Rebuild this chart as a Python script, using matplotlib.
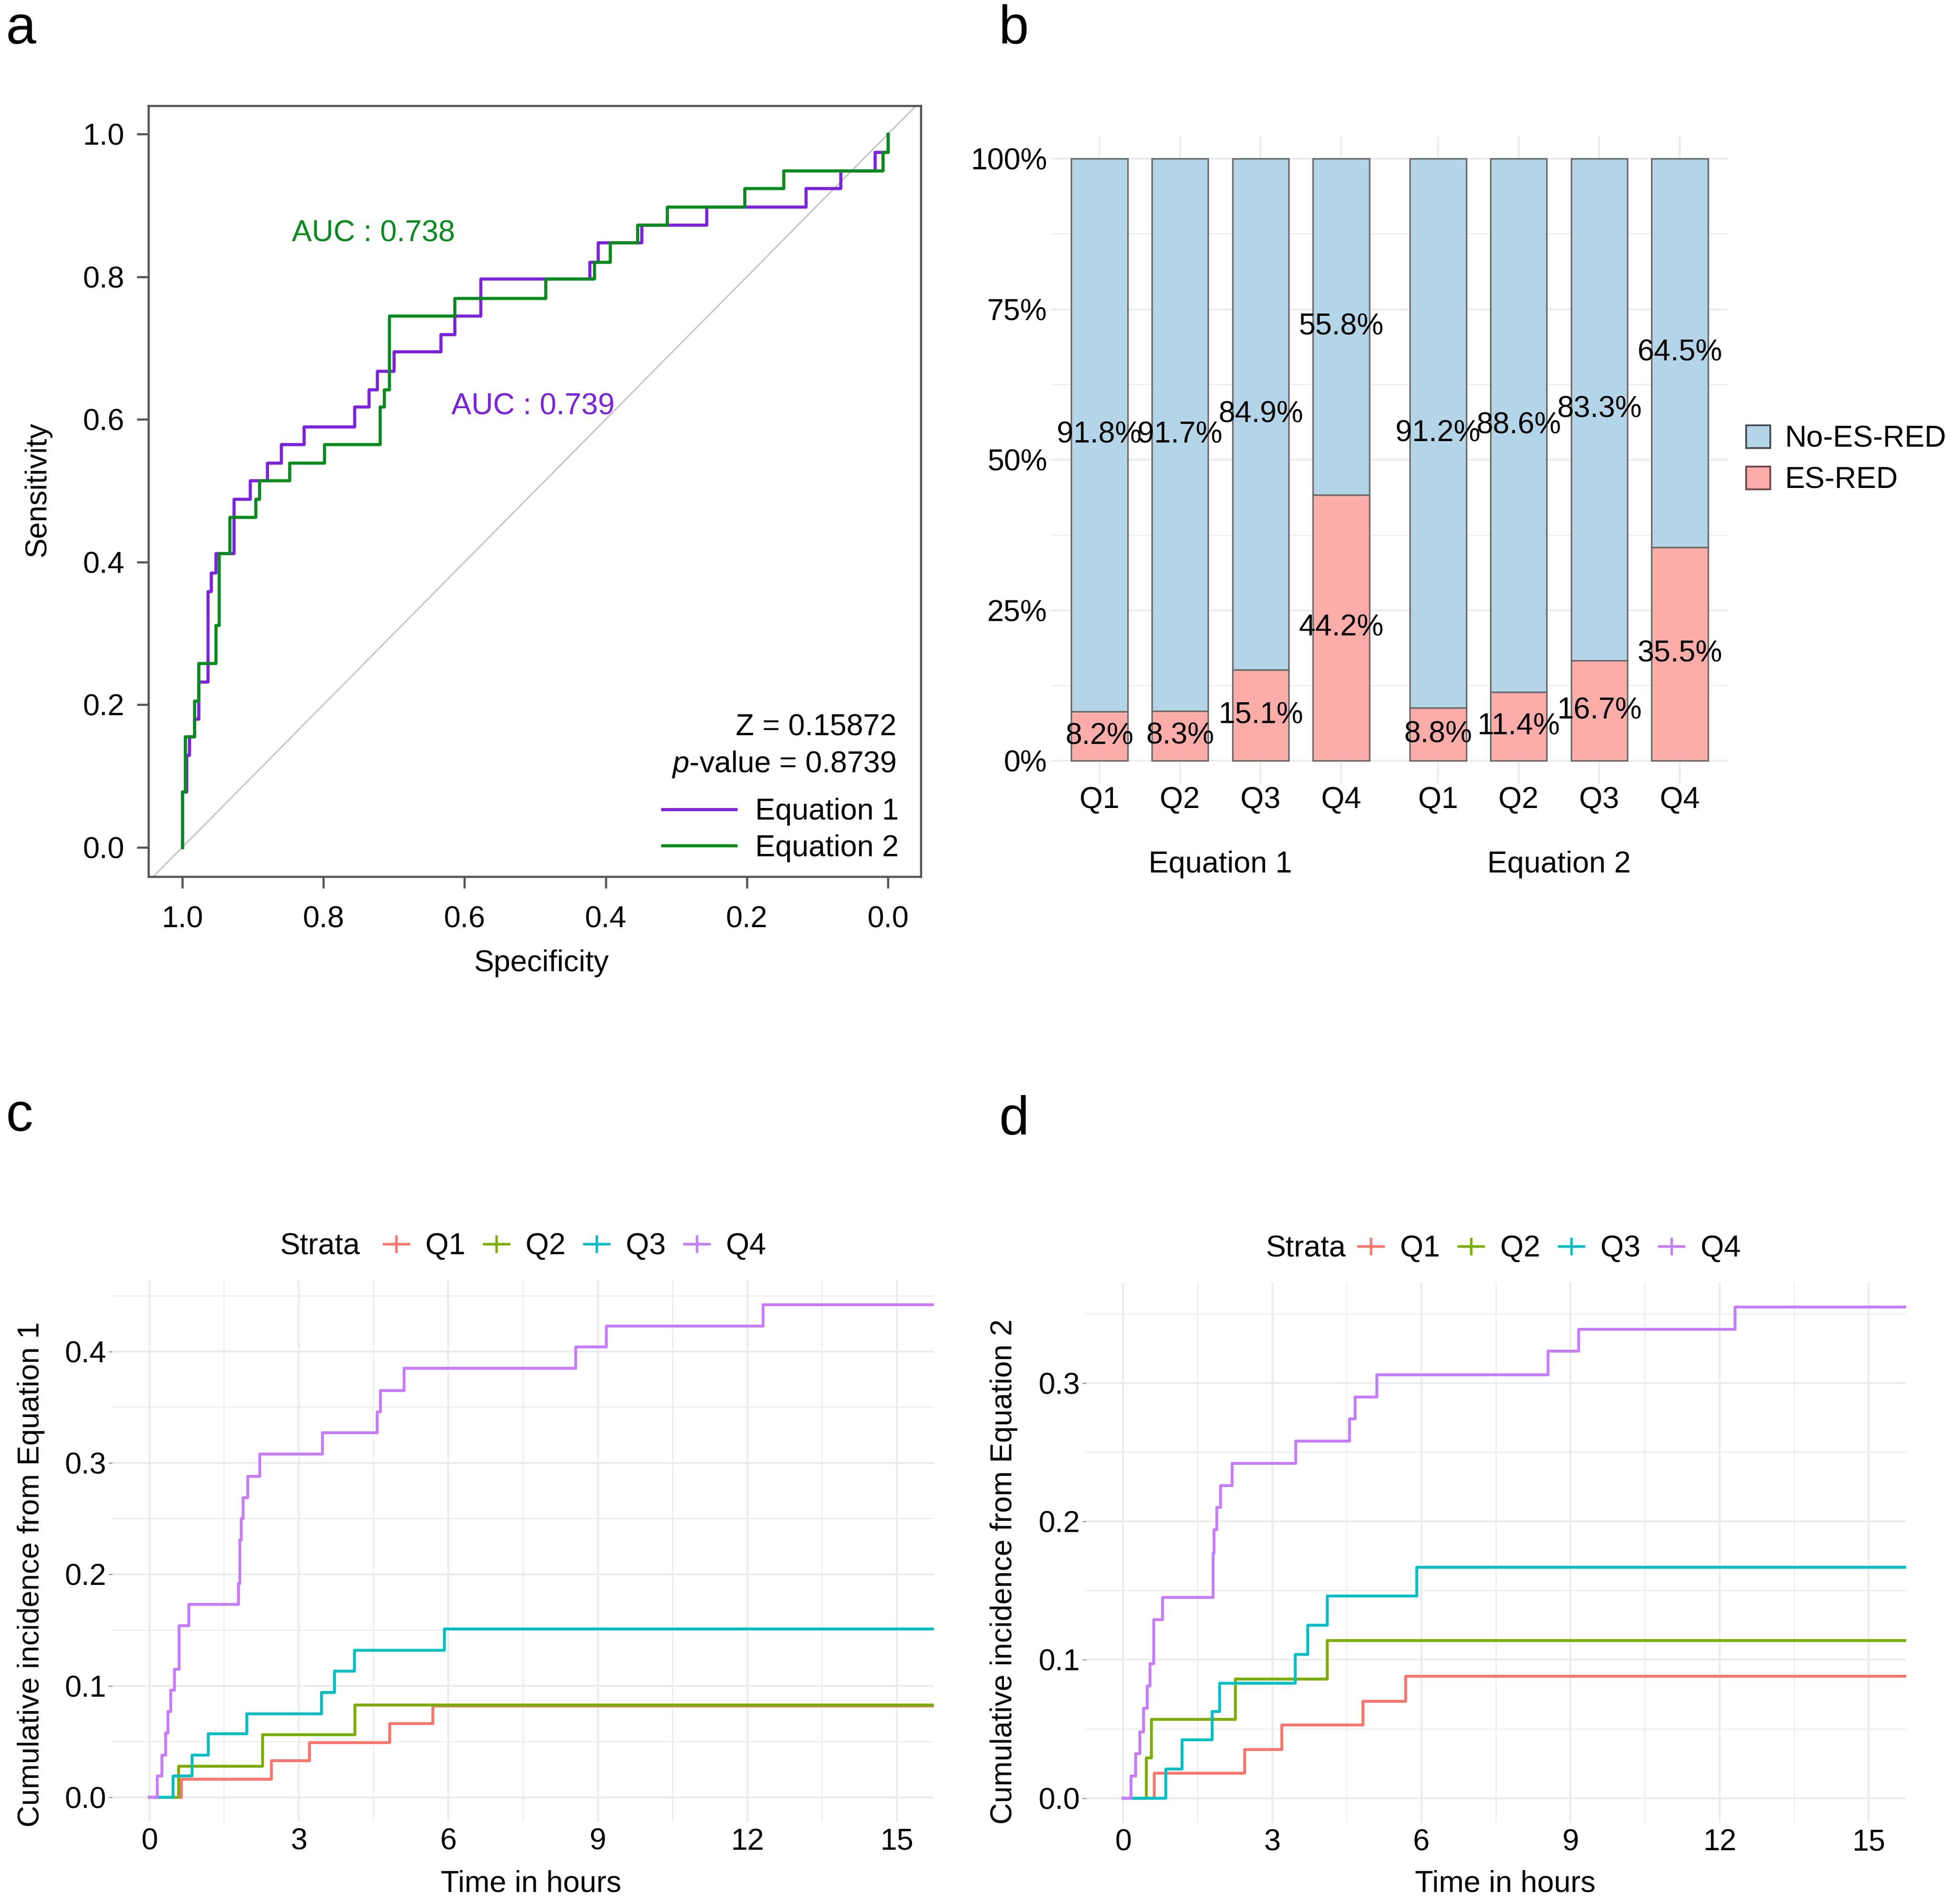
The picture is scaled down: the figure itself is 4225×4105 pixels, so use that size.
import matplotlib
matplotlib.use("Agg")
import matplotlib.pyplot as plt
from matplotlib.lines import Line2D
from matplotlib.patches import Patch

plt.rcParams['font.family'] = ['Liberation Sans', 'DejaVu Sans']
plt.rcParams['mathtext.fontset'] = 'custom'
plt.rcParams['mathtext.it'] = 'Liberation Sans:italic'
plt.rcParams['mathtext.rm'] = 'Liberation Sans'

# ---------------- data ----------------
# panel a: ROC staircase corners (specificity, sensitivity)
roc1_spec = [1.000, 1.000, 0.994, 0.990, 0.983, 0.977, 0.964, 0.959, 0.953, 0.927,
             0.904, 0.880, 0.860, 0.828, 0.756, 0.736, 0.724, 0.700, 0.634, 0.614,
             0.577, 0.423, 0.411, 0.349, 0.257, 0.116, 0.067, 0.018, 0.000]
roc1_sens = [0.000, 0.078, 0.129, 0.155, 0.180, 0.232, 0.359, 0.385, 0.412, 0.488,
             0.514, 0.539, 0.565, 0.590, 0.618, 0.642, 0.668, 0.695, 0.719, 0.745,
             0.797, 0.821, 0.848, 0.873, 0.898, 0.924, 0.949, 0.975, 1.000]
roc2_spec = [1.000, 1.000, 0.996, 0.983, 0.977, 0.953, 0.948, 0.933, 0.896, 0.891,
             0.848, 0.799, 0.720, 0.714, 0.707, 0.614, 0.485, 0.416, 0.394, 0.355,
             0.313, 0.203, 0.148, 0.007, 0.000]
roc2_sens = [0.000, 0.078, 0.155, 0.205, 0.258, 0.311, 0.412, 0.463, 0.488, 0.514,
             0.539, 0.565, 0.618, 0.642, 0.745, 0.770, 0.797, 0.821, 0.848, 0.873,
             0.898, 0.924, 0.949, 0.975, 1.000]
auc_eq1 = 0.739
auc_eq2 = 0.738
z_value = 0.15872
p_value = 0.8739

# panel b: stacked percentages per quartile
quartiles = ['Q1', 'Q2', 'Q3', 'Q4']
equations = ['Equation 1', 'Equation 2']
es_red = [[8.2, 8.3, 15.1, 44.2], [8.8, 11.4, 16.7, 35.5]]
no_es_red = [[91.8, 91.7, 84.9, 55.8], [91.2, 88.6, 83.3, 64.5]]

# panels c, d: cumulative incidence step times (hours) and levels per stratum
eq1_times = [[0.64, 2.45, 3.21, 4.82, 5.69],
             [0.58, 2.27, 4.12],
             [0.47, 0.855, 1.18, 1.95, 3.45, 3.71, 4.11, 5.92],
             [0.16, 0.25, 0.32, 0.37, 0.43, 0.50, 0.59, 0.79, 1.79, 1.81, 1.84,
              1.88, 1.97, 2.21, 3.47, 4.57, 4.64, 5.11, 8.56, 9.17, 12.32]]
eq1_cuminc = [[0.016, 0.033, 0.049, 0.066, 0.082],
              [0.028, 0.056, 0.083],
              [0.019, 0.038, 0.057, 0.075, 0.094, 0.113, 0.132, 0.151],
              [0.019, 0.038, 0.058, 0.077, 0.096, 0.115, 0.154, 0.173, 0.192, 0.231,
               0.250, 0.269, 0.288, 0.308, 0.327, 0.346, 0.365, 0.385, 0.404, 0.423, 0.442]]
eq2_times = [[0.62, 2.44, 3.19, 4.82, 5.68],
             [0.46, 0.57, 2.26, 4.10],
             [0.86, 1.18, 1.79, 1.94, 3.46, 3.71, 4.10, 5.91],
             [0.16, 0.25, 0.33, 0.41, 0.48, 0.54, 0.61, 0.79, 1.81, 1.83, 1.88,
              1.96, 2.19, 3.47, 4.55, 4.66, 5.10, 8.55, 9.16, 12.31]]
eq2_cuminc = [[0.018, 0.035, 0.053, 0.070, 0.088],
              [0.029, 0.057, 0.086, 0.114],
              [0.021, 0.042, 0.0625, 0.083, 0.104, 0.125, 0.146, 0.167],
              [0.016, 0.032, 0.048, 0.065, 0.081, 0.097, 0.129, 0.145, 0.177, 0.194,
               0.210, 0.226, 0.242, 0.258, 0.274, 0.290, 0.306, 0.323, 0.339, 0.355]]

# ---------------- style ----------------
PURPLE = '#7B22DC'
GREEN = '#0A8A1E'
BLUE_FILL = '#B4D5E8'
RED_FILL = '#FDADA9'
STRATA_COLORS = ['#F8766D', '#7CAE00', '#00BFC4', '#C77CFF']
GRID = '#EBEBEB'
FS = 15.5

W, H = 1568.0, 1524.0  # layout grid


def fx(x):
    return x / W


def fy(y):
    return 1 - y / H


fig = plt.figure(figsize=(4225 / 300, 4105 / 300), dpi=300)


def add_axes(left, top, right, bottom):
    return fig.add_axes([fx(left), fy(bottom), (right - left) / W, (bottom - top) / H])


# panel letters
for letter, x, y in [('a', 5, 35), ('b', 799, 35), ('c', 5, 905), ('d', 799, 908)]:
    fig.text(fx(x), fy(y), letter, fontsize=28, ha='left', va='baseline')

# ---------------- panel a: ROC ----------------
ax = add_axes(118.8, 84.6, 736.8, 701.8)
ax.axline((1, 0), (0, 1), color='#C8C8C8', lw=0.8, zorder=1)
ax.step(roc1_spec, roc1_sens, where='post', color=PURPLE, lw=1.6, zorder=3)
ax.step(roc2_spec, roc2_sens, where='post', color=GREEN, lw=1.6, zorder=4)
ax.set_xlim(1.048, -0.047)
ax.set_ylim(-0.0415, 1.04)
ticks = [1.0, 0.8, 0.6, 0.4, 0.2, 0.0]
ax.set_xticks(ticks, [f'{t:.1f}' for t in ticks])
ax.set_yticks(ticks, [f'{t:.1f}' for t in ticks])
for s in ax.spines.values():
    s.set_color('#555555')
    s.set_linewidth(1.1)
ax.tick_params(direction='out', length=6, width=1.1, color='#555555', labelsize=FS)
ax.tick_params(axis='x', pad=9)
ax.tick_params(axis='y', pad=6.5)
ax.text(0.729, 0.861, f'AUC : {auc_eq2:.3f}', color=GREEN, fontsize=FS, ha='center', va='center')
ax.text(0.503, 0.618, f'AUC : {auc_eq1:.3f}', color=PURPLE, fontsize=FS, ha='center', va='center')
ax.text(-0.012, 0.168, f'Z = {z_value}', fontsize=FS, ha='right', va='center')
ax.text(-0.012, 0.116, f'$p$-value = {p_value}', fontsize=FS, ha='right', va='center')
ax.legend(handles=[Line2D([], [], color=PURPLE, lw=1.6), Line2D([], [], color=GREEN, lw=1.6)],
          labels=['Equation 1', 'Equation 2'], loc='lower right',
          bbox_to_anchor=(fx(719), fy(690)), bbox_transform=fig.transFigure,
          frameon=False, fontsize=FS, borderpad=0, borderaxespad=0,
          handlelength=2.45, handletextpad=0.65, labelspacing=0.28)
fig.text(fx(30), fy(392), 'Sensitivity', rotation=90, fontsize=FS, ha='center', va='center')
fig.text(fx(433), fy(771), 'Specificity', fontsize=FS, ha='center', va='center')

# ---------------- panel b: stacked bars ----------------
ax = add_axes(840.8, 109, 1382.6, 627)
positions = []
for g in range(len(equations)):
    for q in range(len(quartiles)):
        positions.append(1 + q + g * 4.2)
es_flat = [v / 100 for row in es_red for v in row]
no_flat = [v / 100 for row in no_es_red for v in row]
ax.bar(positions, es_flat, width=0.7, color=RED_FILL, edgecolor='#6a6a6a', lw=0.8, zorder=3)
ax.bar(positions, no_flat, bottom=es_flat, width=0.7, color=BLUE_FILL,
       edgecolor='#6a6a6a', lw=0.8, zorder=3)
for x, e, n in zip(positions, es_flat, no_flat):
    ax.text(x, e / 2, f'{e * 100:.1f}%', ha='center', va='center', fontsize=FS, zorder=5)
    ax.text(x, e + n / 2, f'{n * 100:.1f}%', ha='center', va='center', fontsize=FS, zorder=5)
ax.set_xlim(0.4, 8.8)
ax.set_ylim(-0.0373, 1.0373)
ax.set_xticks(positions, quartiles * len(equations))
ax.set_yticks([0, 0.25, 0.5, 0.75, 1.0], ['0%', '25%', '50%', '75%', '100%'])
ax.set_yticks([0.125, 0.375, 0.625, 0.875], minor=True)
ax.set_axisbelow(True)
ax.grid(which='major', color=GRID, lw=0.9)
ax.grid(which='minor', axis='y', color=GRID, lw=0.5)
for s in ax.spines.values():
    s.set_visible(False)
ax.tick_params(which='both', length=0, labelsize=FS)
ax.tick_params(axis='x', pad=1.5)
ax.tick_params(axis='y', pad=2)
for g, name in enumerate(equations):
    center = sum(positions[g * 4:(g + 1) * 4]) / 4
    ax.text(center, -0.1255, name, transform=ax.get_xaxis_transform(),
            ha='center', va='center', fontsize=FS)
ax.legend(handles=[Patch(facecolor=BLUE_FILL, edgecolor='#3f4a52', lw=0.9),
                   Patch(facecolor=RED_FILL, edgecolor='#6b4747', lw=0.9)],
          labels=['No-ES-RED', 'ES-RED'], loc='center left',
          bbox_to_anchor=(fx(1397), fy(368)), bbox_transform=fig.transFigure,
          frameon=False, fontsize=FS, borderpad=0, borderaxespad=0,
          handlelength=0.8, handleheight=0.8, handletextpad=0.5, labelspacing=0.45)

# ---------------- panels c, d: cumulative incidence ----------------


def incidence_panel(ax, times, cuminc, ymax, ytop):
    for t, c, col in zip(times, cuminc, STRATA_COLORS):
        ax.step([0] + t + [16.5], [0] + c + [c[-1]], where='post', color=col, lw=1.5)
    ax.set_xlim(-0.75, 15.75)
    ax.set_ylim(-0.05 * ymax, ymax * 1.05)
    ax.set_xticks([0, 3, 6, 9, 12, 15])
    ax.set_xticks([1.5, 4.5, 7.5, 10.5, 13.5], minor=True)
    yt = [i / 10 for i in range(int(ytop * 10) + 1)]
    ax.set_yticks(yt, [f'{v:.1f}' for v in yt])
    ax.set_yticks([v + 0.05 for v in yt], minor=True)
    ax.grid(which='major', color=GRID, lw=0.9)
    ax.grid(which='minor', color=GRID, lw=0.5)
    ax.set_axisbelow(True)
    for s in ax.spines.values():
        s.set_visible(False)
    ax.tick_params(which='both', length=0, labelsize=FS)
    ax.tick_params(axis='x', pad=3)
    ax.tick_params(axis='y', which='major', length=2, width=0.6, color='#999999', pad=1)


def strata_legend(ax, strata_x, handle_x, y):
    fig.text(fx(strata_x), fy(y), 'Strata', fontsize=FS, ha='left', va='center')
    handles = [Line2D([], [], color=c, lw=1.3, marker='+', markersize=9, mew=1.3)
               for c in STRATA_COLORS]
    ax.legend(handles=handles, labels=quartiles, ncol=4, loc='center left',
              bbox_to_anchor=(fx(handle_x), fy(y)), bbox_transform=fig.transFigure,
              frameon=False, fontsize=FS, borderpad=0, borderaxespad=0,
              handlelength=0.84, handletextpad=0.55, columnspacing=0.62)


ax_c = add_axes(89.7, 1024.6, 747.2, 1458.3)
incidence_panel(ax_c, eq1_times, eq1_cuminc, max(eq1_cuminc[3]), 0.4)
strata_legend(ax_c, 224, 307, 997.6)
fig.text(fx(25), fy(1260), 'Cumulative incidence from Equation 1', rotation=90,
         fontsize=FS, ha='center', va='center')
fig.text(fx(425), fy(1508), 'Time in hours', fontsize=FS, ha='center', va='center')

ax_d = add_axes(868.8, 1026.5, 1524.8, 1458.9)
incidence_panel(ax_d, eq2_times, eq2_cuminc, max(eq2_cuminc[3]), 0.3)
strata_legend(ax_d, 1012.5, 1086.6, 999.5)
fig.text(fx(803), fy(1258), 'Cumulative incidence from Equation 2', rotation=90,
         fontsize=FS, ha='center', va='center')
fig.text(fx(1204), fy(1508), 'Time in hours', fontsize=FS, ha='center', va='center')

fig.savefig('out.png', dpi=300, facecolor='white')
